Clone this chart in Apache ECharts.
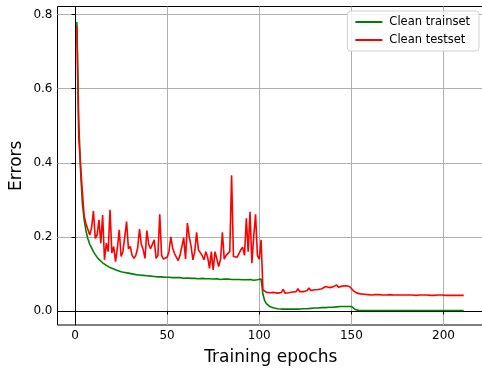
<!DOCTYPE html>
<html>
<head>
<meta charset="utf-8">
<script src="https://cdn.jsdelivr.net/npm/echarts@6/dist/echarts.min.js"></script>
<style>html,body{margin:0;padding:0;background:#fff;}#c{width:482px;height:375px;}</style>
</head>
<body>
<div id="c"></div>
<script>
var xTicks = [0, 50, 100, 150, 200];
var yTicks = [0, 0.2, 0.4, 0.6, 0.8];
var seriesNames = ['Clean trainset', 'Clean testset'];

var trainErr = [
0.78,0.52,0.38,0.29,0.245,0.215,0.195,0.18,0.17,0.16,
0.152,0.145,0.139,0.134,0.13,0.126,0.123,0.12,0.117,0.115,
0.113,0.111,0.109,0.107,0.106,0.105,0.104,0.103,0.102,0.101,
0.100,0.099,0.098,0.097,0.097,0.096,0.096,0.095,0.095,0.094,
0.094,0.094,0.093,0.093,0.092,0.093,0.092,0.091,0.091,0.092,
0.091,0.090,0.090,0.091,0.090,0.089,0.090,0.089,0.088,0.089,
0.089,0.088,0.088,0.089,0.088,0.088,0.087,0.088,0.088,0.087,
0.087,0.086,0.087,0.087,0.086,0.086,0.087,0.086,0.085,0.086,
0.086,0.085,0.086,0.085,0.085,0.086,0.085,0.084,0.085,0.085,
0.084,0.085,0.084,0.084,0.085,0.084,0.083,0.084,0.084,0.085,
0.086,0.045,0.027,0.019,0.014,0.011,0.009,0.008,0.007,0.006,
0.006,0.005,0.005,0.005,0.005,0.005,0.005,0.005,0.005,0.005,
0.005,0.005,0.006,0.006,0.006,0.006,0.007,0.007,0.007,0.008,
0.008,0.008,0.008,0.009,0.009,0.009,0.009,0.010,0.010,0.010,
0.010,0.011,0.011,0.012,0.011,0.012,0.011,0.012,0.012,0.012,
0.008,0.004,0.002,0.0015,0.001,0.001,0.001,0.001,0.001,0.001,
0.001,0.001,0.001,0.001,0.001,0.001,0.001,0.001,0.001,0.001,
0.001,0.001,0.001,0.001,0.001,0.001,0.001,0.001,0.001,0.001,
0.001,0.001,0.001,0.001,0.001,0.001,0.001,0.001,0.001,0.001,
0.001,0.001,0.001,0.001,0.001,0.001,0.001,0.001,0.001,0.001,
0.001,0.001,0.001,0.001,0.001,0.001,0.001,0.001,0.001,0.001,
0.001
];

var testErr = [
0.77,0.47,0.465,0.32,0.255,0.235,0.22,0.205,0.225,0.27,
0.196,0.205,0.246,0.183,0.259,0.138,0.183,0.16,0.273,0.156,
0.174,0.133,0.17,0.219,0.147,0.16,0.2,0.241,0.168,0.174,
0.15,0.142,0.15,0.17,0.221,0.18,0.165,0.142,0.217,0.18,
0.168,0.165,0.192,0.142,0.15,0.261,0.15,0.14,0.138,0.145,
0.16,0.2,0.17,0.155,0.145,0.136,0.15,0.145,0.198,0.14,
0.237,0.2,0.175,0.138,0.16,0.212,0.165,0.16,0.15,0.138,
0.16,0.145,0.115,0.16,0.111,0.16,0.155,0.12,0.14,0.212,
0.14,0.15,0.155,0.16,0.366,0.147,0.15,0.145,0.15,0.165,
0.172,0.15,0.25,0.16,0.268,0.129,0.2,0.261,0.15,0.14,
0.192,0.057,0.052,0.050,0.050,0.049,0.048,0.050,0.049,0.048,
0.050,0.050,0.058,0.048,0.050,0.049,0.052,0.051,0.050,0.052,
0.060,0.052,0.053,0.052,0.054,0.055,0.062,0.055,0.056,0.057,
0.056,0.058,0.057,0.060,0.065,0.066,0.070,0.063,0.066,0.065,
0.068,0.070,0.064,0.065,0.067,0.066,0.068,0.073,0.066,0.064,
0.055,0.050,0.048,0.047,0.046,0.045,0.045,0.044,0.044,0.044,
0.043,0.044,0.044,0.043,0.044,0.043,0.043,0.044,0.043,0.043,
0.044,0.044,0.043,0.043,0.043,0.044,0.043,0.043,0.043,0.042,
0.043,0.043,0.043,0.043,0.042,0.043,0.043,0.042,0.043,0.043,
0.043,0.043,0.042,0.043,0.042,0.042,0.043,0.042,0.043,0.043,
0.042,0.042,0.042,0.043,0.042,0.042,0.042,0.043,0.042,0.042,
0.042
];

function toPairs(arr) { return arr.map(function (v, i) { return [i + 1, v]; }); }

var FONT = 'DejaVu Sans';
var chart = echarts.init(document.getElementById('c'), null, { renderer: 'canvas' });
chart.setOption({
  animation: false,
  backgroundColor: '#fff',
  textStyle: { fontFamily: FONT },
  grid: { show: true, left: 57.5, right: -2, top: 6.5, bottom: 50, containLabel: false, outerBoundsMode: 'none',
    borderColor: '#000', borderWidth: 1, backgroundColor: 'transparent' },
  legend: {
    orient: 'vertical', right: 3, top: 11,
    backgroundColor: 'rgba(255,255,255,0.85)', borderColor: '#d0d0d0', borderWidth: 1, borderRadius: 3,
    padding: [5, 9, 5, 8], itemGap: 6, itemWidth: 27, itemHeight: 2, icon: 'rect',
    textStyle: { fontFamily: FONT, fontSize: 11.5, color: '#000', padding: [0, 0, 0, 2] },
    data: seriesNames
  },
  xAxis: {
    type: 'value', min: -9.5, max: 222,
    name: 'Training epochs', nameLocation: 'middle', nameGap: 24,
    nameTextStyle: { fontFamily: FONT, fontSize: 17, color: '#000' },
    axisLine: { show: true, lineStyle: { color: '#000', width: 1 } },
    axisTick: { show: true, inside: false, length: 3.5, customValues: xTicks, lineStyle: { color: '#000' } },
    axisLabel: { customValues: xTicks, fontFamily: FONT, fontSize: 12, color: '#000', margin: 5 },
    splitLine: { show: true, lineStyle: { color: '#b0b0b0', width: 1 } }
  },
  yAxis: {
    type: 'value', min: -0.038, max: 0.822,
    name: 'Errors', nameLocation: 'middle', nameGap: 32, nameMoveOverlap: false,
    nameTextStyle: { fontFamily: FONT, fontSize: 17, color: '#000' },
    axisLine: { show: true, lineStyle: { color: '#000', width: 1 } },
    axisTick: { show: true, inside: false, length: 3.5, customValues: yTicks, lineStyle: { color: '#000' } },
    axisLabel: { customValues: yTicks, fontFamily: FONT, fontSize: 12, color: '#000', margin: 5,
      formatter: function (v) { return v.toFixed(1); } },
    splitLine: { show: true, lineStyle: { color: '#b0b0b0', width: 1 } }
  },
  series: [
    { name: seriesNames[0], type: 'line', data: toPairs(trainErr), showSymbol: false, symbol: 'none',
      lineStyle: { color: '#008000', width: 1.6 }, itemStyle: { color: '#008000' } },
    { name: seriesNames[1], type: 'line', data: toPairs(testErr), showSymbol: false, symbol: 'none',
      lineStyle: { color: '#ff0000', width: 1.6 }, itemStyle: { color: '#ff0000' } }
  ]
});
</script>
</body>
</html>
